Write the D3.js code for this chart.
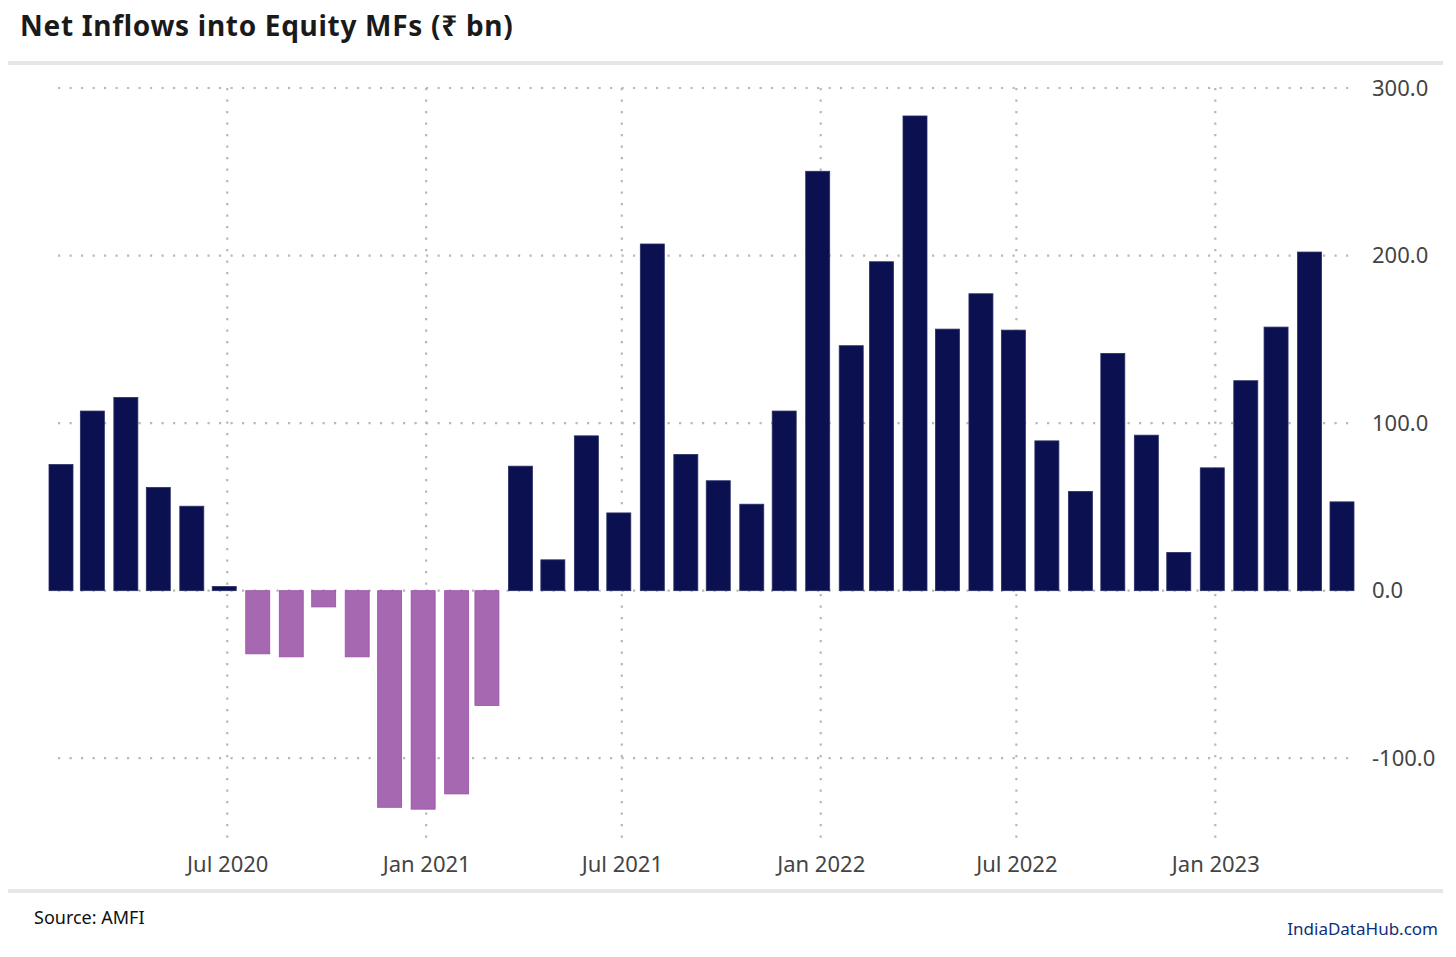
<!DOCTYPE html>
<html>
<head>
<meta charset="utf-8">
<script src="https://cdn.jsdelivr.net/npm/d3@7"></script>
<style>
  body { margin: 0; background: #fff; }
  svg { display: block; font-family: "Noto Sans", "Open Sans", sans-serif; }
</style>
</head>
<body>
<div id="chart"></div>
<script>
// monthly net inflows, Feb 2020 .. May 2023 (Rs bn)
var months = [
  "2020-02", "2020-03", "2020-04", "2020-05", "2020-06", "2020-07", "2020-08", "2020-09",
  "2020-10", "2020-11", "2020-12", "2021-01", "2021-02", "2021-03", "2021-04", "2021-05",
  "2021-06", "2021-07", "2021-08", "2021-09", "2021-10", "2021-11", "2021-12", "2022-01",
  "2022-02", "2022-03", "2022-04", "2022-05", "2022-06", "2022-07", "2022-08", "2022-09",
  "2022-10", "2022-11", "2022-12", "2023-01", "2023-02", "2023-03", "2023-04", "2023-05"
];
var inflows = [
  75.3, 107.2, 115.3, 61.6, 50.4, 2.5, -37.7, -39.5,
  -9.7, -39.5, -129.3, -130.4, -121.3, -68.5, 74.3, 18.4,
  92.4, 46.4, 206.9, 81.3, 65.6, 51.6, 107.2, 250.3,
  146.2, 196.3, 283.3, 156.1, 177.2, 155.5, 89.4, 59.2,
  141.6, 92.8, 22.8, 73.3, 125.3, 157.3, 202.1, 53.0
];
var yTicks = [-100, 0, 100, 200, 300];
var xTickDates = ["2020-07", "2021-01", "2021-07", "2022-01", "2022-07", "2023-01"];

var parseMonth = d3.timeParse("%Y-%m");
var data = months.map(function(m, i) {
    return {date: parseMonth(m), val: inflows[i]};
});

var W = 1456, H = 957;
var plotTop = 88, plotBottom = 842;
var tickShift = 3; // ticks sit a touch right of the bar centres

var svg = d3.select("#chart").append("svg")
    .attr("width", W)
    .attr("height", H);

var x = d3.scaleTime()
    .domain([parseMonth("2020-02"), parseMonth("2023-05")])
    .range([61, 1342]);

var y = d3.scaleLinear()
    .domain([-150, 300])
    .range([plotBottom, plotTop]);

// title + rules
svg.append("text")
    .attr("x", 20)
    .attr("y", 36)
    .attr("font-size", 28)
    .attr("font-weight", "bold")
    .attr("letter-spacing", 0.7)
    .attr("fill", "#1a1a1a")
    .text("Net Inflows into Equity MFs (₹ bn)");

svg.append("rect").attr("x", 8).attr("y", 61).attr("width", 1435).attr("height", 4).attr("fill", "#e6e6e6");
svg.append("rect").attr("x", 8).attr("y", 889).attr("width", 1435).attr("height", 4).attr("fill", "#e6e6e6");

// horizontal grid
svg.append("g")
    .selectAll("line")
    .data(yTicks)
  .enter().append("line")
    .attr("x1", 58)
    .attr("x2", 1355)
    .attr("y1", function(d) { return y(d); })
    .attr("y2", function(d) { return y(d); })
    .attr("stroke", "#b8b8b8")
    .attr("stroke-width", 2.2)
    .attr("stroke-dasharray", "2.2,9.3");

// vertical grid
svg.append("g")
    .selectAll("line")
    .data(xTickDates.map(parseMonth))
  .enter().append("line")
    .attr("x1", function(d) { return x(d) + tickShift; })
    .attr("x2", function(d) { return x(d) + tickShift; })
    .attr("y1", plotTop)
    .attr("y2", plotBottom)
    .attr("stroke", "#b8b8b8")
    .attr("stroke-width", 2.2)
    .attr("stroke-dasharray", "2.2,9.3");

// bars
var barW = 24;
svg.append("g")
    .selectAll("rect")
    .data(data)
  .enter().append("rect")
    .attr("x", function(d) { return x(d.date) - barW / 2; })
    .attr("y", function(d) { return y(Math.max(0, d.val)); })
    .attr("width", barW)
    .attr("height", function(d) { return Math.abs(y(d.val) - y(0)); })
    .attr("fill", function(d) { return d.val >= 0 ? "#0b1050" : "#a668b0"; })
    .attr("stroke", function(d) { return d.val >= 0 ? "#2a2f66" : "#9a4fa6"; })
    .attr("stroke-width", 0.8);

// y axis labels (right side)
var fmt = d3.format(".1f");
var yAxis = d3.axisRight(y)
    .tickValues(yTicks)
    .tickSize(0)
    .tickPadding(0)
    .tickFormat(function(d) { return fmt(d).replace("\u2212", "-"); });

var gy = svg.append("g")
    .attr("transform", "translate(1372,0)")
    .call(yAxis);
gy.select(".domain").remove();
gy.selectAll("text")
    .attr("font-size", 22)
    .attr("fill", "#444")
    .attr("font-family", "'Noto Sans', 'Open Sans', sans-serif");

// x axis labels
var xAxis = d3.axisBottom(x)
    .tickValues(xTickDates.map(parseMonth))
    .tickSize(0)
    .tickPadding(0)
    .tickFormat(d3.timeFormat("%b %Y"));

var gx = svg.append("g")
    .attr("transform", "translate(" + tickShift + ",856)")
    .call(xAxis);
gx.select(".domain").remove();
gx.selectAll("text")
    .attr("font-size", 22)
    .attr("fill", "#444")
    .attr("font-family", "'Noto Sans', 'Open Sans', sans-serif");

// footer
svg.append("text")
    .attr("x", 34)
    .attr("y", 924)
    .attr("font-size", 18)
    .attr("fill", "#111")
    .text("Source: AMFI");

svg.append("text")
    .attr("x", 1438)
    .attr("y", 935)
    .attr("text-anchor", "end")
    .attr("font-size", 17)
    .attr("fill", "#0d2f7a")
    .text("IndiaDataHub.com");
</script>
</body>
</html>
